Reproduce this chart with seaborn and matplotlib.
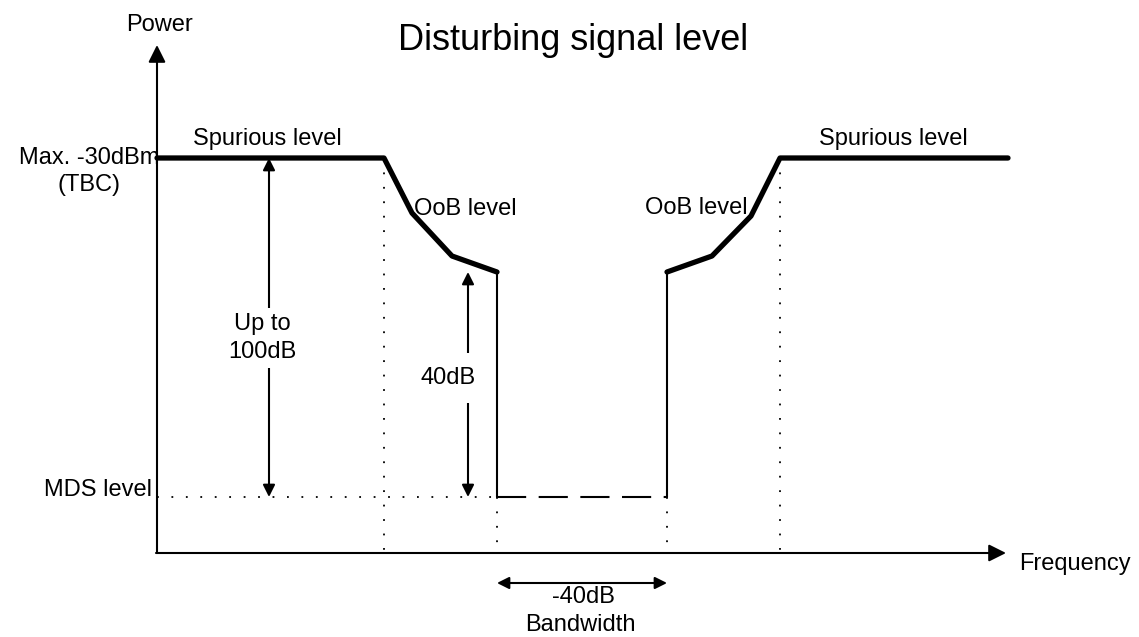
import matplotlib.pyplot as plt
import seaborn as sns
import pandas as pd

sns.set_theme(style="white")
plt.rcParams['font.family'] = ['Liberation Sans', 'DejaVu Sans']
plt.rcParams['text.color'] = 'black'

# -------- data (diagram units: x = frequency, y = drawing height) --------
spur_level = 158
mds_level = 497
inner_level = 272
axis_y = 553
axis_x = 157

left_freq = [157, 384, 412, 452, 497]
left_power = [158, 158, 213, 256, 272]
right_freq = [667, 712, 751, 780, 1008]
right_power = [272, 256, 216, 158, 158]

band_lo = 497
band_hi = 667
left_edge = 384
right_edge = 780

spec = pd.concat([
    pd.DataFrame({'freq': left_freq, 'power': left_power, 'side': 'left'}),
    pd.DataFrame({'freq': right_freq, 'power': right_power, 'side': 'right'}),
])

fig = plt.figure(figsize=(11.39, 6.37), dpi=100)
ax = fig.add_axes([0, 0, 1, 1])

sns.lineplot(data=spec, x='freq', y='power', units='side', estimator=None,
             sort=False, color='black', linewidth=3.8, ax=ax,
             solid_capstyle='round', solid_joinstyle='round')

# thin walls and dashed floor
ax.plot([band_lo, band_lo], [inner_level, mds_level], color='black', lw=1.5)
ax.plot([band_hi, band_hi], [inner_level, mds_level], color='black', lw=1.5)
ax.plot([band_lo, band_hi], [mds_level, mds_level], color='black', lw=1.5,
        dashes=(14, 6))

# dotted guides
dot = dict(color='black', lw=1.3, linestyle=(0, (1, 7)))
ax.plot([left_edge, left_edge], [spur_level, axis_y], **dot)
ax.plot([right_edge, right_edge], [spur_level, axis_y], **dot)
ax.plot([band_lo, band_lo], [mds_level, axis_y], **dot)
ax.plot([band_hi, band_hi], [mds_level, axis_y], **dot)
ax.plot([axis_x, band_lo], [mds_level, mds_level], **dot)

# axes arrows
ax_arrow = dict(arrowstyle='-|>', color='black', lw=1.5, mutation_scale=26,
                shrinkA=0, shrinkB=0)
ax.annotate('', xy=(axis_x, 45), xytext=(axis_x, axis_y), arrowprops=ax_arrow)
ax.annotate('', xy=(1006, axis_y), xytext=(axis_x - 1, axis_y), arrowprops=ax_arrow)

# dimension arrows
dim = dict(arrowstyle='<|-|>', color='black', lw=1.5, mutation_scale=18,
           shrinkA=0, shrinkB=0)
ax.annotate('', xy=(269, spur_level), xytext=(269, mds_level), arrowprops=dim)
ax.annotate('', xy=(468, inner_level), xytext=(468, mds_level), arrowprops=dim)
ax.annotate('', xy=(band_lo, 583), xytext=(band_hi, 583), arrowprops=dim)

fs = 17
wbox = dict(facecolor='white', edgecolor='none', pad=4)
ax.text(262, 338, 'Up to\n100dB', ha='center', va='center', fontsize=fs,
        linespacing=1.3, bbox=wbox)
ax.text(448, 378, '40dB', ha='center', va='center', fontsize=fs,
        bbox=dict(facecolor='white', edgecolor='none', pad=10))
ax.text(583, 597, '-40dB', ha='center', va='center', fontsize=fs)
ax.text(580, 625, 'Bandwidth', ha='center', va='center', fontsize=fs)

ax.text(160, 25, 'Power', ha='center', va='center', fontsize=fs)
ax.text(573, 40, 'Disturbing signal level', ha='center', va='center', fontsize=26)
ax.text(159, 158, 'Max. -30dBm', ha='right', va='center', fontsize=fs)
ax.text(89, 185, '(TBC)', ha='center', va='center', fontsize=fs)
ax.text(152, 490, 'MDS level', ha='right', va='center', fontsize=fs)
ax.text(267, 139, 'Spurious level', ha='center', va='center', fontsize=fs)
ax.text(893, 139, 'Spurious level', ha='center', va='center', fontsize=fs)
ax.text(465, 209, 'OoB level', ha='center', va='center', fontsize=fs)
ax.text(696, 208, 'OoB level', ha='center', va='center', fontsize=fs)
ax.text(1075, 564, 'Frequency', ha='center', va='center', fontsize=fs)

ax.set_xlim(0, 1139)
ax.set_ylim(637, 0)
ax.set_axis_off()

fig.savefig('out.png', dpi=100)
